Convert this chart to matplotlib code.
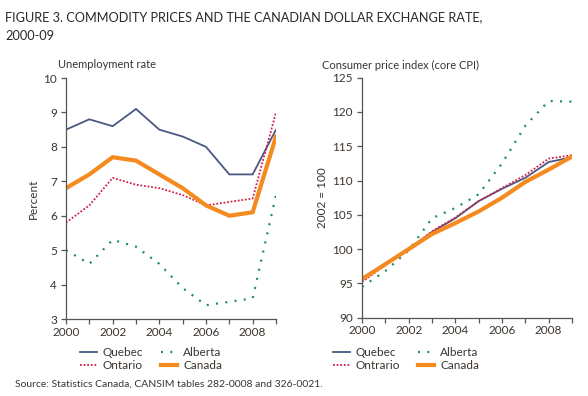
import matplotlib
matplotlib.use("Agg")
import matplotlib.pyplot as plt
from matplotlib.lines import Line2D

years = [2000, 2001, 2002, 2003, 2004, 2005, 2006, 2007, 2008, 2009]

unemp_quebec = [8.5, 8.8, 8.6, 9.1, 8.5, 8.3, 8.0, 7.2, 7.2, 8.5]
unemp_ontario = [5.8, 6.3, 7.1, 6.9, 6.8, 6.6, 6.3, 6.4, 6.5, 9.0]
unemp_alberta = [5.0, 4.6, 5.3, 5.1, 4.6, 3.9, 3.4, 3.5, 3.6, 6.6]
unemp_canada = [6.8, 7.2, 7.7, 7.6, 7.2, 6.8, 6.3, 6.0, 6.1, 8.3]

cpi_quebec = [95.8, 97.9, 100.0, 102.5, 104.5, 107.0, 108.8, 110.4, 112.7, 113.4]
cpi_ontario = [95.2, 97.7, 100.0, 102.6, 104.6, 107.0, 108.9, 110.8, 113.2, 113.7]
cpi_alberta = [94.5, 96.8, 99.8, 104.5, 106.0, 108.0, 112.5, 118.0, 121.6, 121.5]
cpi_canada = [95.6, 97.8, 100.0, 102.2, 103.8, 105.5, 107.5, 109.8, 111.6, 113.5]

left_legend_labels = ["Quebec", "Ontario", "Alberta", "Canada"]
right_legend_labels = ["Quebec", "Ontrario", "Alberta", "Canada"]

plt.rcParams['font.family'] = ['Lato', 'DejaVu Sans']

TXT = '#3b342e'
AX = '#555555'
C_QC = '#4b5882'
C_ON = '#d11f48'
C_AB = '#1f8a68'
C_CA = '#f58a1f'

fig = plt.figure(figsize=(5.88, 3.96), dpi=100)

axL = fig.add_axes([66/588, 1-319/396, 210/588, 241/396])
axR = fig.add_axes([362/588, 1-317.7/396, 210/588, 240/396])

def draw(ax, q, o, a, c):
    ax.plot(years, q, color=C_QC, lw=1.3, solid_joinstyle='miter')
    ax.plot(years, o, color=C_ON, lw=1.3, linestyle=(0, (1, 1)))
    ax.plot(years, a, color=C_AB, lw=1.6, linestyle=(0, (0.9, 3.3)))
    ax.plot(years, c, color=C_CA, lw=3.0, solid_joinstyle='miter')
    ax.set_xlim(2000, 2009)
    ax.set_xticks(years)
    ax.set_xticklabels([str(y) if (y - 2000) % 2 == 0 else "" for y in years])
    for s in ['top', 'right']:
        ax.spines[s].set_visible(False)
    for s in ['left', 'bottom']:
        ax.spines[s].set_color(AX)
        ax.spines[s].set_linewidth(0.9)
    ax.tick_params(axis='both', colors=AX, labelcolor=TXT, labelsize=8.5,
                   length=3.5, width=0.9, direction='out', pad=2)
    ax.tick_params(axis='y', pad=3)

draw(axL, unemp_quebec, unemp_ontario, unemp_alberta, unemp_canada)
axL.set_ylim(3, 10)
axL.set_yticks([3, 4, 5, 6, 7, 8, 9, 10])
axL.set_ylabel("Percent", color=TXT, fontsize=8.5, labelpad=3)

draw(axR, cpi_quebec, cpi_ontario, cpi_alberta, cpi_canada)
axR.set_ylim(90, 125)
axR.set_yticks([90, 95, 100, 105, 110, 115, 120, 125])
axR.set_ylabel("2002 = 100", color=TXT, fontsize=8.5, labelpad=3)

fig.text(5/588, 1-21/396, "FIGURE 3. COMMODITY PRICES AND THE CANADIAN DOLLAR EXCHANGE RATE,",
         ha='left', va='baseline', fontsize=9.2, color='#2a2a2a')
fig.text(5/588, 1-40/396, "2000-09",
         ha='left', va='baseline', fontsize=9.2, color='#2a2a2a')
fig.text(58/588, 1-65/396, "Unemployment rate", ha='left', va='center', fontsize=8, color=TXT)
fig.text(322/588, 1-65/396, "Consumer price index (core CPI)", ha='left', va='center', fontsize=8, color=TXT)

def handles():
    return [Line2D([], [], color=C_QC, lw=1.3),
            Line2D([], [], color=C_ON, lw=1.3, linestyle=(0, (1, 1))),
            Line2D([], [], color=C_AB, lw=1.6, linestyle=(0, (0.9, 3.3))),
            Line2D([], [], color=C_CA, lw=3.0)]

for ax, x0, labels in [(axL, 80/588, left_legend_labels), (axR, 333/588, right_legend_labels)]:
    leg = ax.legend(handles(), labels, loc='upper left', bbox_to_anchor=(x0, 1-347/396),
                    bbox_transform=fig.transFigure, ncol=2, frameon=False,
                    fontsize=8.5, handlelength=1.4, handletextpad=0.5,
                    columnspacing=1.5, labelspacing=0.2, borderpad=0, borderaxespad=0)
    for t in leg.get_texts():
        t.set_color(TXT)

fig.text(15/588, 1-384/396, "Source: Statistics Canada, CANSIM tables 282-0008 and 326-0021.",
         ha='left', va='center', fontsize=7.5, color=TXT)

fig.savefig("out.png", dpi=100)
